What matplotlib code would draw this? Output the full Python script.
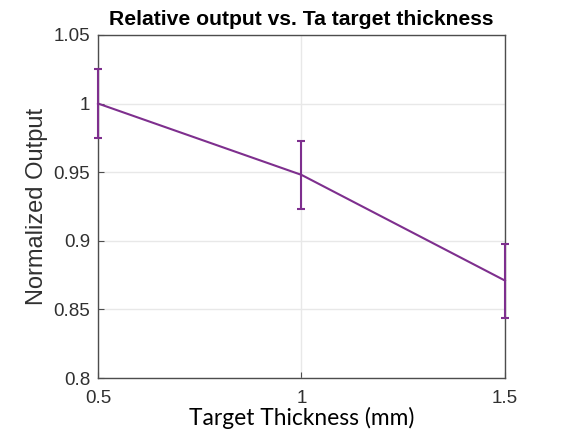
import matplotlib
matplotlib.use("Agg")
import matplotlib.pyplot as plt
import matplotlib.transforms as mtransforms

thickness = [0.5, 1.0, 1.5]
normalized_output = [1.000, 0.948, 0.871]
output_error = [0.025, 0.0245, 0.027]
x_ticks = [0.5, 1.0, 1.5]
x_tick_labels = ["0.5", "1", "1.5"]
y_ticks = [0.8, 0.85, 0.9, 0.95, 1.0, 1.05]
y_tick_labels = ["0.8", "0.85", "0.9", "0.95", "1", "1.05"]

purple = "#7E2F8E"
axis_gray = "#4d4d4d"

fig = plt.figure(figsize=(5.68, 4.36), dpi=100)
ax = fig.add_axes([0.1725, 0.133, 0.7165, 0.787])

ax.errorbar(thickness, normalized_output, yerr=output_error, color=purple,
            linewidth=1.5, elinewidth=1.5, capsize=2.7, capthick=1.5, zorder=3,
            clip_on=False)

ax.set_xlim(0.5, 1.5)
ax.set_ylim(0.8, 1.05)
ax.set_xticks(x_ticks)
ax.set_xticklabels(x_tick_labels)
ax.set_yticks(y_ticks)
ax.set_yticklabels(y_tick_labels)

ax.grid(True, color="#e8e8e8", linewidth=1.0, zorder=0)
ax.set_axisbelow(True)
for s in ax.spines.values():
    s.set_color(axis_gray)
    s.set_linewidth(1.0)
ax.tick_params(direction="in", length=4, color=axis_gray, labelcolor="#303030",
               labelsize=13.5)
ax.tick_params(axis="x", pad=8.5)
ax.tick_params(axis="y", pad=5.5)
for lab in ax.get_xticklabels() + ax.get_yticklabels():
    lab.set_family("Liberation Sans")

ax.set_title("Relative output vs. Ta target thickness", fontsize=15.2,
             fontweight="bold", family="Liberation Sans", pad=7)
ax.set_ylabel("Normalized Output", fontsize=17, family="Liberation Sans",
              color="#303030")
ax.yaxis.label.set_transform(
    mtransforms.blended_transform_factory(
        mtransforms.IdentityTransform(), ax.transAxes))
ax.yaxis.label.set_position((44, 0.5))
ax.set_xlabel("Target Thickness (mm)", fontsize=16.4, family="Lato",
              color="black", labelpad=0)

fig.savefig("out.png", dpi=100, facecolor="white")
